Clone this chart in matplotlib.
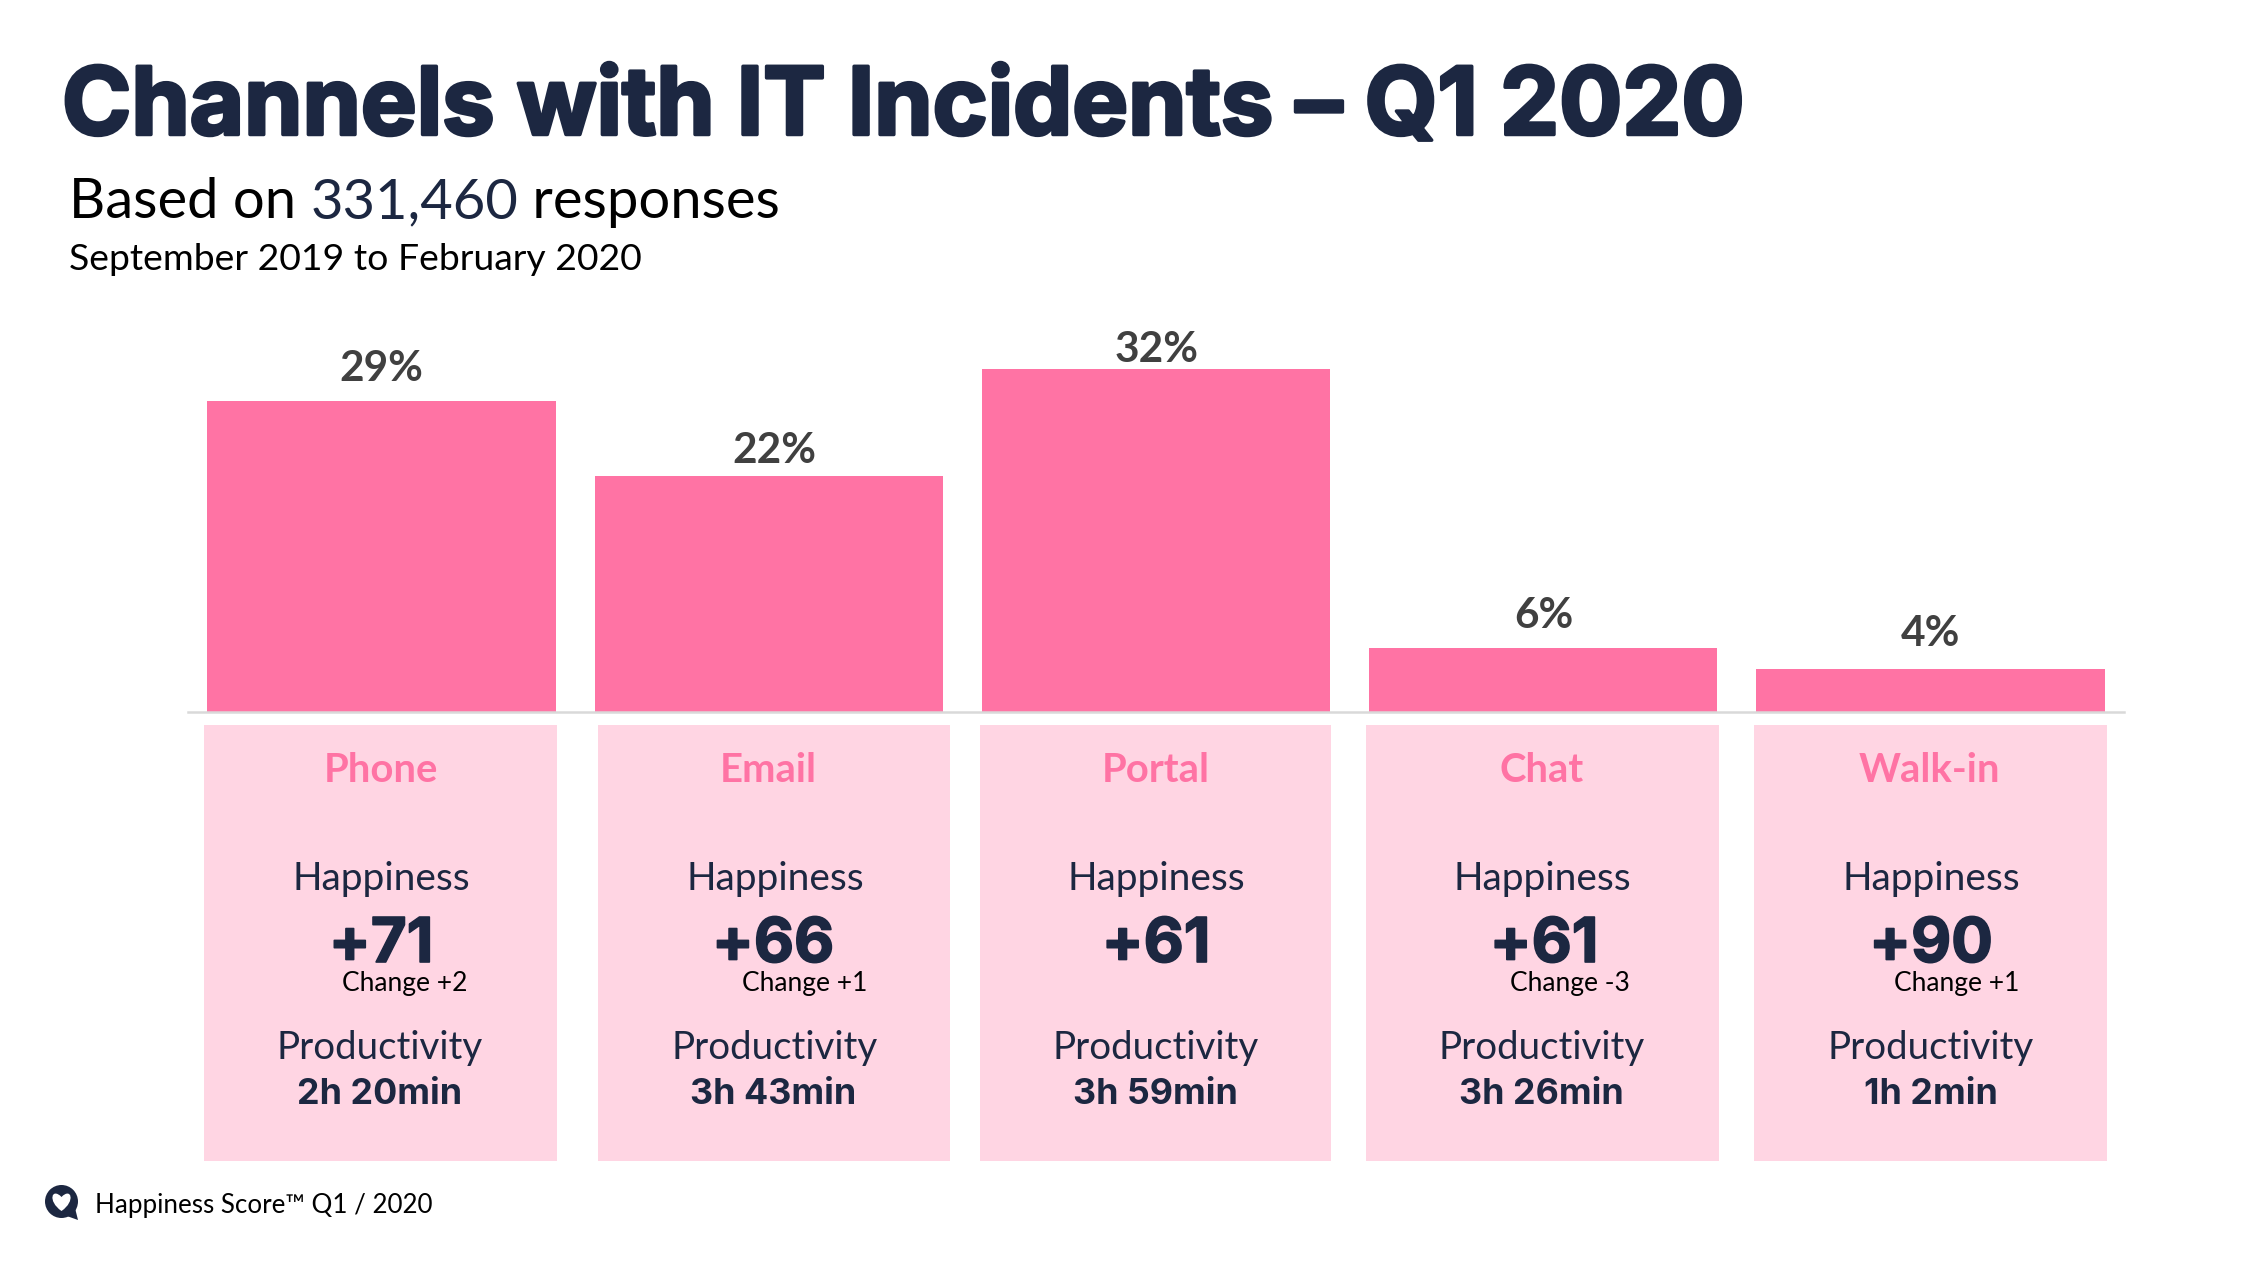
import matplotlib
matplotlib.use("Agg")
import matplotlib.pyplot as plt
import matplotlib.patheffects as pe
from matplotlib.patches import Rectangle, PathPatch, Circle
from matplotlib.path import Path

# Incident share per channel and the scores shown on each card
channels = ["Phone", "Email", "Portal", "Chat", "Walk-in"]
incident_share = [29, 22, 32, 6, 4]
happiness = ["+71", "+66", "+61", "+61", "+90"]
change = ["Change +2", "Change +1", "", "Change -3", "Change +1"]
productivity = ["2h 20min", "3h 43min", "3h 59min", "3h 26min", "1h 2min"]

NAVY = "#1c2741"
PINK = "#ff73a4"
CARD = "#ffd5e3"
RULE = "#d9d9d9"
GREY = "#404040"
BODY = "Lato"
HEAD = "Inter"

W, H = 2254, 1261
fig = plt.figure(figsize=(W / 100, H / 100), dpi=100, facecolor="white")

# Full-figure canvas in pixel units for the cards, headings and logo
canvas = fig.add_axes([0, 0, 1, 1])
canvas.set_xlim(0, W)
canvas.set_ylim(H, 0)
canvas.axis("off")

# Bar panel: spans x 188-2124 with its baseline at y=712
top_px, base_px = 340, 712
chart = fig.add_axes([188 / W, 1 - base_px / H, 1936 / W, (base_px - top_px) / H])
chart.patch.set_alpha(0)
chart.set_xlim(-0.5, 4.5)
chart.set_ylim(0, (base_px - top_px) / 10.72)
chart.bar(range(len(channels)), incident_share, width=0.9, color=PINK, zorder=2)
for side in ("top", "left", "right"):
    chart.spines[side].set_visible(False)
chart.spines["bottom"].set_color(RULE)
chart.spines["bottom"].set_linewidth(1.8)
chart.set_xticks([])
chart.set_yticks([])

# Percentage labels, each with its own gap above the bar
label_gap = [32, 25, 19, 32, 35]
label_nudge = [0, 6, 1, 1, 0]
for i, share in enumerate(incident_share):
    chart.annotate(f"{share}%", (i, share), xytext=(label_nudge[i] * 0.72, label_gap[i] * 0.72),
                   textcoords="offset points", ha="center", va="center",
                   fontsize=30.5, fontweight="bold", family="Lato", color=GREY)

# Card layout in pixels
card_edges = [(204, 557), (598, 950), (980, 1331), (1366, 1719), (1754, 2107)]
name_x = [381, 768, 1156, 1542, 1929]
happy_x = [381, 775, 1156, 1542, 1931]
score_x = [381, 773, 1156, 1544, 1931]
change_x = [405, 805, 0, 1570, 1957]
prod_x = [380, 775, 1156, 1542, 1931]
time_x = [380, 773, 1155, 1541, 1931]
heavier = [pe.withStroke(linewidth=1.2, foreground=NAVY)]

for i, (left, right) in enumerate(card_edges):
    canvas.add_patch(Rectangle((left, 725), right - left, 436, facecolor=CARD, edgecolor="none"))
    canvas.text(name_x[i], 770, channels[i], ha="center", va="center", fontsize=28.8,
                fontweight="bold", family="Lato", color=PINK)
    canvas.text(happy_x[i], 879, "Happiness", ha="center", va="center", fontsize=28,
                family=BODY, color=NAVY)
    canvas.text(score_x[i], 946, happiness[i], ha="center", va="center", fontsize=44.5,
                fontweight="bold", family=HEAD, color=NAVY, path_effects=heavier)
    if change[i]:
        canvas.text(change_x[i], 984, change[i], ha="center", va="center", fontsize=19,
                    family=BODY, color="black")
    canvas.text(prod_x[i], 1048, "Productivity", ha="center", va="center", fontsize=27.7,
                family=BODY, color=NAVY)
    canvas.text(time_x[i], 1095, productivity[i], ha="center", va="center", fontsize=25.8,
                fontweight="bold", family=HEAD, color=NAVY)

# Heading block
canvas.text(62, 110, "Channels with IT Incidents – Q1 2020", ha="left", va="center", fontsize=67.5,
            fontweight="bold", family=HEAD, color=NAVY,
            path_effects=[pe.withStroke(linewidth=2.5, foreground=NAVY)])

renderer = fig.canvas.get_renderer()
cursor = 69
for piece, colour in [("Based on ", "black"), ("331,460", NAVY), (" responses", "black")]:
    t = canvas.text(cursor, 203, piece.replace(" ", "\u00a0"), ha="left", va="center",
                    fontsize=40.4, family=BODY, color=colour)
    cursor = t.get_window_extent(renderer).x1

canvas.text(69, 259, "September 2019 to February 2020", ha="left", va="center", fontsize=26.9,
            family=BODY, color="black")
canvas.text(95, 1206, "Happiness Score™ Q1 / 2020", ha="left", va="center", fontsize=18.7,
            family=BODY, color="black")

# Speech-bubble logo with a heart cut-out
canvas.add_patch(Circle((61.5, 1201.5), 16.5, facecolor=NAVY, edgecolor="none"))
tail = Path([(64, 1215), (75, 1208), (78, 1220), (64, 1215)],
            [Path.MOVETO, Path.LINETO, Path.LINETO, Path.CLOSEPOLY])
canvas.add_patch(PathPatch(tail, facecolor=NAVY, edgecolor="none"))
heart = Path([(61.5, 1211), (47, 1201), (52, 1187), (61.5, 1197),
              (71, 1187), (76, 1201), (61.5, 1211)],
             [Path.MOVETO, Path.CURVE4, Path.CURVE4, Path.CURVE4,
              Path.CURVE4, Path.CURVE4, Path.CURVE4])
canvas.add_patch(PathPatch(heart, facecolor="white", edgecolor="none"))

fig.savefig("out.png", dpi=100, facecolor="white")
